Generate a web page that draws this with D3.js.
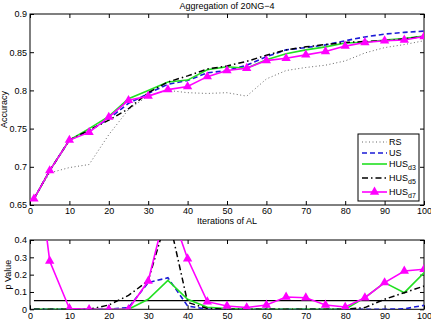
<!DOCTYPE html>
<html>
<head>
<meta charset="utf-8">
<script src="https://cdnjs.cloudflare.com/ajax/libs/d3/7.8.5/d3.min.js"></script>
<style>
  body { margin: 0; background: #fff; }
  svg { display: block; font-family: "Liberation Sans", Arial, sans-serif; }
</style>
</head>
<body>
<div id="chart"></div>
<script>
// iterations where each run was measured
const iters = [1, 5, 10, 15, 20, 25, 30, 35, 40, 45, 50, 55, 60, 65, 70, 75, 80, 85, 90, 95, 100];

// accuracy (top panel)
const accRS  = [0.658, 0.692, 0.699, 0.703, 0.742, 0.775, 0.793, 0.800, 0.797, 0.796, 0.797, 0.7925, 0.815, 0.826, 0.830, 0.833, 0.8386, 0.849, 0.856, 0.860, 0.865];
const accUS  = [0.658, 0.695, 0.735, 0.747, 0.763, 0.783, 0.796, 0.808, 0.813, 0.823, 0.826, 0.833, 0.844, 0.853, 0.856, 0.8596, 0.865, 0.870, 0.8737, 0.876, 0.8776];
const accD3  = [0.658, 0.695, 0.735, 0.750, 0.766, 0.789, 0.800, 0.811, 0.8135, 0.827, 0.831, 0.829, 0.840, 0.848, 0.853, 0.857, 0.862, 0.863, 0.866, 0.868, 0.871];
const accD5  = [0.658, 0.695, 0.735, 0.748, 0.761, 0.776, 0.797, 0.811, 0.819, 0.828, 0.832, 0.838, 0.846, 0.853, 0.857, 0.860, 0.8627, 0.864, 0.865, 0.8675, 0.8705];
const accD7  = [0.658, 0.695, 0.735, 0.745, 0.765, 0.787, 0.7925, 0.801, 0.805, 0.818, 0.826, 0.829, 0.839, 0.842, 0.8465, 0.851, 0.858, 0.8627, 0.865, 0.866, 0.8705];

// p values (bottom panel)
const pUS = [0, 0, 0, 0, 0, 0.01, 0.154, 0.182, 0.019, 0, 0, 0, 0, 0, 0, 0, 0, 0, 0, 0.003, 0.023];
const pD3 = [0, 0, 0, 0, 0, 0, 0.058, 0.167, 0.058, 0.012, 0.005, 0, 0, 0, 0, 0, 0, 0.067, 0.154, 0.096, 0.211];
const pD5 = [0, 0, 0, 0, 0.025, 0.08, 0.165, 0.55, 0.04, 0.005, 0, 0, 0, 0, 0, 0, 0, 0.01, 0.058, 0.096, 0.134];
const pD7 = [1, 0.279, 0.005, 0, 0, 0, 0.163, 0.62, 0.292, 0.044, 0.019, 0.01, 0.025, 0.071, 0.067, 0.025, 0.013, 0.067, 0.154, 0.221, 0.231];
const alpha = 0.05;

const iterTicks = [0, 10, 20, 30, 40, 50, 60, 70, 80, 90, 100];
const accTicks = [0.65, 0.7, 0.75, 0.8, 0.85, 0.9];
const pTicks = [0, 0.1, 0.2, 0.3, 0.4];

const W = 431, H = 322;
const svg = d3.select("#chart").append("svg")
    .attr("width", W)
    .attr("height", H)
    .attr("font-size", 9);

const x = d3.scaleLinear().domain([0, 100]).range([30, 424]);
const yTop = d3.scaleLinear().domain([0.65, 0.9]).range([205, 14]);
const yBot = d3.scaleLinear().domain([0, 0.4]).range([309.3, 240]);

const series = [
    { name: "RS",  acc: accRS, p: null, color: "#666", width: 1, dash: "1,2.5" },
    { name: "US",  acc: accUS, p: pUS,  color: "#1a1ad6", width: 1.6, dash: "5,3" },
    { name: "HUS", sub: "d3", acc: accD3, p: pD3, color: "#22e022", width: 1.6, dash: null },
    { name: "HUS", sub: "d5", acc: accD5, p: pD5, color: "#000", width: 1.5, dash: "6,3,1.5,3" },
    { name: "HUS", sub: "d7", acc: accD7, p: pD7, color: "#ff00ff", width: 1.6, dash: null, marker: true }
];

const tri = d3.symbol().type(d3.symbolTriangle).size(38);

function panel(y, yTicks, clipId) {
    const g = svg.append("g");
    const [y0, y1] = y.range();

    g.append("clipPath").attr("id", clipId)
        .append("rect")
        .attr("x", x(0)).attr("y", y1)
        .attr("width", x(100) - x(0)).attr("height", y0 - y1);

    // axes, ticks pointing inward
    g.append("g")
        .attr("transform", `translate(0,${y0})`)
        .call(d3.axisBottom(x).tickValues(iterTicks).tickSizeInner(-4).tickSizeOuter(0).tickPadding(3));
    g.append("g")
        .attr("transform", `translate(0,${y1})`)
        .call(d3.axisTop(x).tickValues(iterTicks).tickSizeInner(-4).tickSizeOuter(0).tickFormat(""));
    g.append("g")
        .attr("transform", `translate(${x(0)},0)`)
        .call(d3.axisLeft(y).tickValues(yTicks).tickSizeInner(-4).tickSizeOuter(0).tickPadding(3).tickFormat(d => String(d)));
    g.append("g")
        .attr("transform", `translate(${x(100)},0)`)
        .call(d3.axisRight(y).tickValues(yTicks).tickSizeInner(-4).tickSizeOuter(0).tickFormat(""));

    g.selectAll(".domain").remove();
    g.selectAll(".tick line").attr("stroke", "#000");
    g.selectAll(".tick text").attr("fill", "#000").attr("font-size", 9);

    g.append("rect")
        .attr("x", x(0)).attr("y", y1)
        .attr("width", x(100) - x(0)).attr("height", y0 - y1)
        .attr("fill", "none").attr("stroke", "#000").attr("stroke-width", 1);

    return g.append("g").attr("clip-path", `url(#${clipId})`);
}

// top panel: accuracy
const accPanel = panel(yTop, accTicks, "clipTop");
series.forEach(s => {
    const line = d3.line().x((d, i) => x(iters[i])).y(d => yTop(d));
    accPanel.append("path")
        .datum(s.acc)
        .attr("fill", "none")
        .attr("stroke", s.color)
        .attr("stroke-width", s.width)
        .attr("stroke-dasharray", s.dash)
        .attr("d", line);
    if (s.marker) {
        accPanel.selectAll(null).data(s.acc).join("path")
            .attr("transform", (d, i) => `translate(${x(iters[i])},${yTop(d)})`)
            .attr("d", tri)
            .attr("fill", s.color);
    }
});

// bottom panel: p values
const pPanel = panel(yBot, pTicks, "clipBot");
pPanel.append("line")
    .attr("x1", x(1)).attr("x2", x(100))
    .attr("y1", yBot(alpha)).attr("y2", yBot(alpha))
    .attr("stroke", "#000").attr("stroke-width", 1.3);
series.filter(s => s.p).forEach(s => {
    const line = d3.line().x((d, i) => x(iters[i])).y(d => yBot(d));
    pPanel.append("path")
        .datum(s.p)
        .attr("fill", "none")
        .attr("stroke", s.color)
        .attr("stroke-width", s.width)
        .attr("stroke-dasharray", s.dash)
        .attr("d", line);
    if (s.marker) {
        pPanel.selectAll(null).data(s.p).join("path")
            .attr("transform", (d, i) => `translate(${x(iters[i])},${yBot(d)})`)
            .attr("d", tri)
            .attr("fill", s.color);
    }
});

// titles and labels
svg.append("text")
    .attr("x", (x(0) + x(100)) / 2).attr("y", 9)
    .attr("text-anchor", "middle")
    .text("Aggregation of 20NG\u22124");
svg.append("text")
    .attr("x", (x(0) + x(100)) / 2).attr("y", 224)
    .attr("text-anchor", "middle")
    .text("Iterations of AL");
svg.append("text")
    .attr("transform", `translate(7,${(yTop.range()[0] + yTop.range()[1]) / 2}) rotate(-90)`)
    .attr("text-anchor", "middle")
    .text("Accuracy");
svg.append("text")
    .attr("transform", `translate(11,${(yBot.range()[0] + yBot.range()[1]) / 2}) rotate(-90)`)
    .attr("text-anchor", "middle")
    .text("p Value");

// legend
const lg = svg.append("g");
lg.append("rect")
    .attr("x", 358).attr("y", 134)
    .attr("width", 61).attr("height", 67)
    .attr("fill", "#fff").attr("stroke", "#000").attr("stroke-width", 1);
const legendY = [142, 153, 164, 178, 192];
series.forEach((s, i) => {
    const ly = legendY[i];
    lg.append("line")
        .attr("x1", 362).attr("x2", 387)
        .attr("y1", ly).attr("y2", ly)
        .attr("stroke", s.color)
        .attr("stroke-width", s.width)
        .attr("stroke-dasharray", s.dash);
    if (s.marker) {
        lg.append("path")
            .attr("transform", `translate(374.5,${ly})`)
            .attr("d", tri)
            .attr("fill", s.color);
    }
    const t = lg.append("text")
        .attr("x", 389).attr("y", ly + 3)
        .text(s.name);
    if (s.sub) {
        t.append("tspan")
            .attr("font-size", 7)
            .attr("dy", 3)
            .text(s.sub);
    }
});
</script>
</body>
</html>
